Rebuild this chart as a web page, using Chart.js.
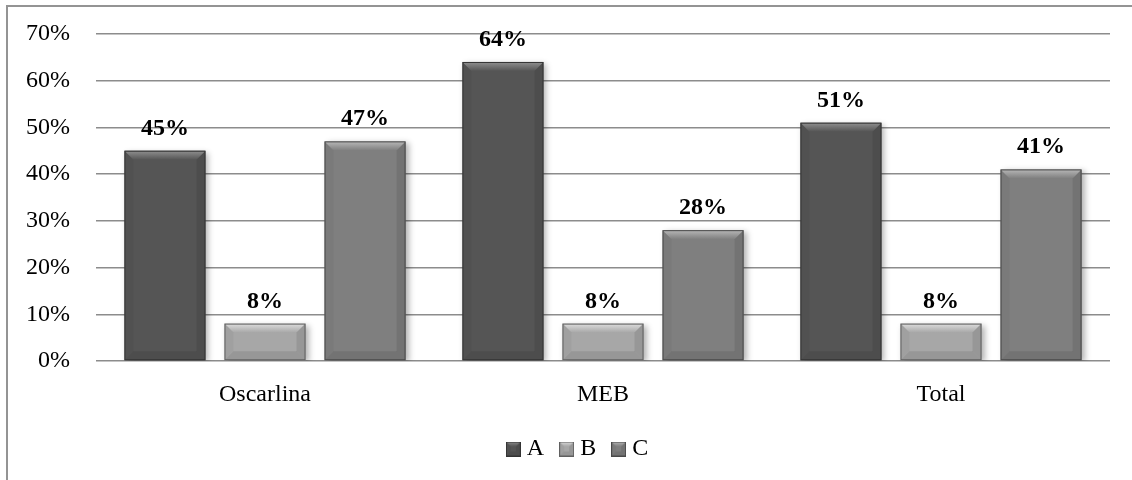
<!DOCTYPE html>
<html>
<head>
<meta charset="utf-8">
<script src="https://cdn.jsdelivr.net/npm/chart.js@4/dist/chart.umd.min.js"></script>
<style>
  html, body { margin: 0; padding: 0; background: #fff; }
  #frame { position: absolute; left: 6px; top: 5px; width: 1130px; height: 480px;
           border-left: 2px solid #949494; border-top: 2px solid #949494; box-sizing: border-box; }
  #wrap { position: absolute; left: 0; top: 0; width: 1132px; height: 480px; }
</style>
</head>
<body>
<div id="frame"></div>
<div id="wrap"><canvas id="chart"></canvas></div>
<script>
// Categories and series values (percent)
const categories = ['Oscarlina', 'MEB', 'Total'];
const seriesNames = ['A', 'B', 'C'];
const seriesA = [45, 64, 51];
const seriesB = [8, 8, 8];
const seriesC = [47, 28, 41];
const yTickMax = 70;
const yTickStep = 10;

// Bar shades: body, highlight, outline
const shades = [
  { base: '#555555', light: '#909090', dark: '#333333' },
  { base: '#a7a7a7', light: '#dddddd', dark: '#606060' },
  { base: '#7f7f7f', light: '#b8b8b8', dark: '#494949' }
];

const SERIF = '"Liberation Serif", "Times New Roman", serif';

// Draws a bevelled rectangle (raised-look bar face)
function drawBevel(ctx, l, t, r, b, shade, bw) {
  const h = b - t;
  const w = r - l;
  const k = Math.min(bw, h / 2, w / 2);
  ctx.save();
  // top facet
  const gTop = ctx.createLinearGradient(0, t, 0, t + k);
  gTop.addColorStop(0, shade.light);
  gTop.addColorStop(1, shade.base);
  ctx.fillStyle = gTop;
  ctx.beginPath();
  ctx.moveTo(l, t); ctx.lineTo(r, t); ctx.lineTo(r - k, t + k); ctx.lineTo(l + k, t + k);
  ctx.closePath(); ctx.fill();
  // left facet
  ctx.fillStyle = 'rgba(0,0,0,0.04)';
  ctx.beginPath();
  ctx.moveTo(l, t); ctx.lineTo(l + k, t + k); ctx.lineTo(l + k, b - k); ctx.lineTo(l, b);
  ctx.closePath(); ctx.fill();
  // right facet
  ctx.fillStyle = 'rgba(0,0,0,0.09)';
  ctx.beginPath();
  ctx.moveTo(r, t); ctx.lineTo(r - k, t + k); ctx.lineTo(r - k, b - k); ctx.lineTo(r, b);
  ctx.closePath(); ctx.fill();
  // bottom facet
  ctx.fillStyle = 'rgba(0,0,0,0.09)';
  ctx.beginPath();
  ctx.moveTo(l, b); ctx.lineTo(l + k, b - k); ctx.lineTo(r - k, b - k); ctx.lineTo(r, b);
  ctx.closePath(); ctx.fill();
  // outline
  ctx.strokeStyle = shade.dark;
  ctx.lineWidth = 1;
  ctx.strokeRect(l + 0.5, t + 0.5, w - 1, h - 1);
  ctx.restore();
}

// Small bevelled squares for the legend
function legendIcon(shade) {
  const c = document.createElement('canvas');
  c.width = 15; c.height = 15;
  const cx = c.getContext('2d');
  cx.fillStyle = shade.base;
  cx.fillRect(0, 0, 15, 15);
  drawBevel(cx, 0, 0, 15, 15, shade, 5);
  return c;
}
const icons = shades.map(legendIcon);

// Legend sits a little right of the canvas centre
const legendShift = {
  id: 'legendShift',
  afterLayout(chart) {
    const lg = chart.legend;
    if (lg) { lg.left += 25; lg.right += 25; }
  }
};

const bevelPlugin = {
  id: 'bevelBars',
  beforeDatasetsDraw(chart) {
    const ctx = chart.ctx;
    ctx.save();
    ctx.shadowColor = 'rgba(0,0,0,0.30)';
    ctx.shadowBlur = 6;
    ctx.shadowOffsetX = 3;
    ctx.shadowOffsetY = 2;
  },
  afterDatasetsDraw(chart) {
    const ctx = chart.ctx;
    ctx.restore();
    chart.data.datasets.forEach((ds, di) => {
      const meta = chart.getDatasetMeta(di);
      meta.data.forEach((bar) => {
        const p = bar.getProps(['x', 'y', 'base', 'width'], true);
        const l = p.x - p.width / 2, r = p.x + p.width / 2;
        const t = Math.min(p.y, p.base), b = Math.max(p.y, p.base);
        drawBevel(ctx, l, t, r, b, shades[di], 9);
      });
    });
    // value labels
    ctx.save();
    ctx.font = 'bold 24px ' + SERIF;
    ctx.fillStyle = '#000';
    ctx.textAlign = 'center';
    ctx.textBaseline = 'alphabetic';
    chart.data.datasets.forEach((ds, di) => {
      const meta = chart.getDatasetMeta(di);
      meta.data.forEach((bar, i) => {
        const p = bar.getProps(['x', 'y'], true);
        ctx.fillText(ds.data[i] + '%', p.x, p.y - 16);
      });
    });
    ctx.restore();
  }
};

const seriesValues = [seriesA, seriesB, seriesC];

new Chart(document.getElementById('chart'), {
  type: 'bar',
  data: {
    labels: categories,
    datasets: seriesNames.map((name, i) => ({
      label: name,
      data: seriesValues[i],
      backgroundColor: shades[i].base,
      borderWidth: 0,
      categoryPercentage: 0.888,
      barPercentage: 0.81
    }))
  },
  options: {
    responsive: true,
    maintainAspectRatio: false,
    animation: false,
    devicePixelRatio: 1,
    layout: { padding: { left: 0, right: 22, top: 11, bottom: 9 } },
    plugins: {
      legend: {
        position: 'bottom',
        labels: {
          usePointStyle: true,
          pointStyleWidth: 3,
          boxWidth: 15,
          boxHeight: 15,
          padding: 21,
          color: '#000',
          font: { family: SERIF, size: 24 },
          generateLabels: () => seriesNames.map((n, i) => ({
            text: n,
            pointStyle: icons[i],
            fillStyle: shades[i].base,
            strokeStyle: 'transparent',
            lineWidth: 0,
            hidden: false,
            datasetIndex: i,
            fontColor: '#000'
          }))
        }
      },
      tooltip: { enabled: false }
    },
    scales: {
      x: {
        afterFit(scale) { scale.height = 55; },
        grid: { display: false, drawTicks: false },
        border: { display: false },
        ticks: { color: '#000', padding: 19, font: { family: SERIF, size: 24 } }
      },
      y: {
        min: 0,
        max: yTickMax,
        afterFit(scale) { scale.width = 96; },
        grid: { color: '#8c8c8c', lineWidth: 1.5, drawTicks: false },
        border: { display: false },
        ticks: {
          stepSize: yTickStep,
          padding: 26,
          color: '#000',
          font: { family: SERIF, size: 24, lineHeight: 0.66 },
          callback: (v) => v + '%'
        }
      }
    }
  },
  plugins: [bevelPlugin, legendShift]
});
</script>
</body>
</html>
